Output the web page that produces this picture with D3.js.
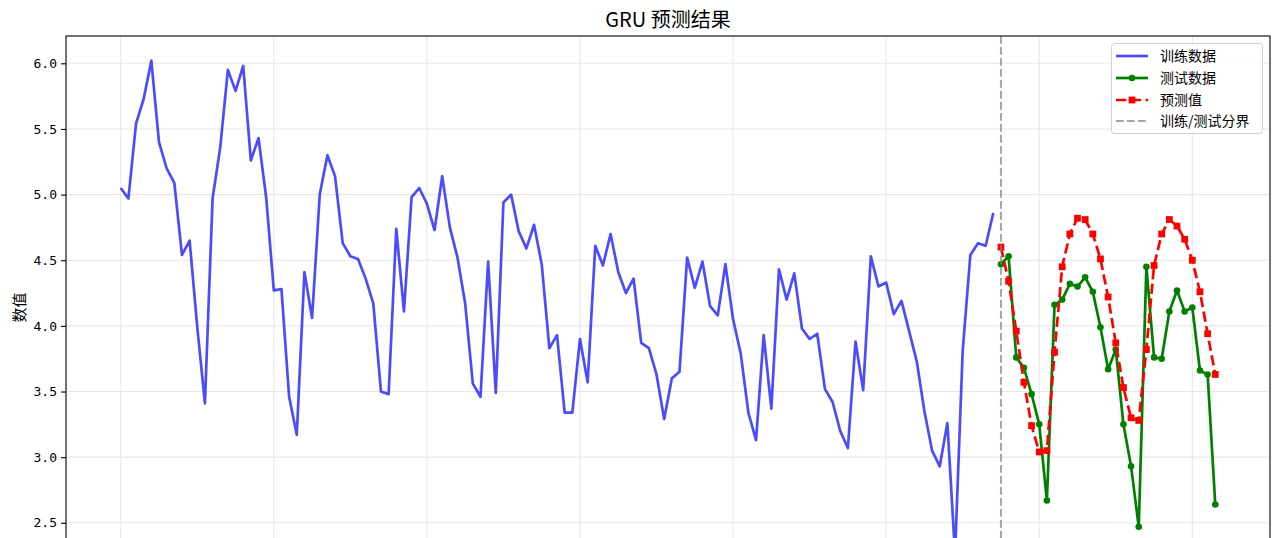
<!DOCTYPE html>
<html>
<head>
<meta charset="utf-8">
<style>
  body { margin: 0; background: #fff; }
  svg { display: block; overflow: hidden; }
  .tick text { font-family: "DejaVu Sans Mono", "Noto Sans CJK SC", sans-serif; }
</style>
</head>
<body>
<div class="chart"></div>
<script src="https://d3js.org/d3.v7.min.js"></script>
<script>
  // 训练数据（索引 0 ~ 114）
  const trainValues = [
    5.05, 4.97, 5.54, 5.73, 6.02, 5.40, 5.20, 5.09, 4.54, 4.65,
    3.99, 3.41, 4.97, 5.36, 5.95, 5.79, 5.98, 5.26, 5.43, 4.98,
    4.27, 4.28, 3.46, 3.17, 4.41, 4.06, 5.00, 5.30, 5.14, 4.63,
    4.53, 4.51, 4.36, 4.17, 3.50, 3.48, 4.74, 4.11, 4.98, 5.05,
    4.93, 4.73, 5.14, 4.75, 4.52, 4.17, 3.56, 3.46, 4.49, 3.49,
    4.94, 5.00, 4.72, 4.59, 4.77, 4.47, 3.83, 3.93, 3.34, 3.34,
    3.90, 3.57, 4.61, 4.46, 4.70, 4.41, 4.25, 4.36, 3.87, 3.83,
    3.63, 3.29, 3.60, 3.65, 4.52, 4.29, 4.49, 4.15, 4.08, 4.47,
    4.05, 3.79, 3.34, 3.13, 3.93, 3.37, 4.43, 4.20, 4.40, 3.98,
    3.90, 3.94, 3.52, 3.42, 3.20, 3.07, 3.88, 3.51, 4.53, 4.30,
    4.33, 4.09, 4.19, 3.96, 3.73, 3.35, 3.05, 2.93, 3.26, 2.26,
    3.81, 4.54, 4.63, 4.61, 4.86
  ];
  // 测试数据（索引 115 ~ 143）
  const testValues = [
    4.47, 4.53, 3.76, 3.68, 3.48, 3.25, 2.67, 4.16, 4.20, 4.32,
    4.30, 4.37, 4.26, 3.99, 3.67, 3.82, 3.25, 2.93, 2.47, 4.45,
    3.76, 3.75, 4.11, 4.27, 4.11, 4.14, 3.66, 3.63, 2.64
  ];
  // 预测值
  const predValues = [
    4.60, 4.34, 3.96, 3.57, 3.24, 3.04, 3.05, 3.80, 4.45, 4.70,
    4.82, 4.81, 4.70, 4.51, 4.22, 3.87, 3.53, 3.30, 3.28, 3.82,
    4.46, 4.70, 4.81, 4.76, 4.66, 4.50, 4.26, 3.94, 3.63
  ];
  const splitIndex = trainValues.length;
  const yTicks = [2.5, 3.0, 3.5, 4.0, 4.5, 5.0, 5.5, 6.0];
  const xTicks = [0, 20, 40, 60, 80, 100, 120, 140];
  const legendLabels = ['训练数据', '测试数据', '预测值', '训练/测试分界'];

  function drawChart() {
    const width = 1280, height = 538;
    // 图的下半部分在画面外（原图被裁切）
    const plotLeft = 66, plotRight = 1270, plotTop = 36, plotBottom = 579;
    const cjk = '"Noto Sans CJK SC", sans-serif';

    const svg = d3.select('.chart').append('svg')
      .attr('width', width)
      .attr('height', height);

    const trainData = trainValues.map((v, i) => ({ x: i, y: v }));
    const testData = testValues.map((v, i) => ({ x: splitIndex + i, y: v }));
    const predData = predValues.map((v, i) => ({ x: splitIndex + i, y: v }));
    const allY = trainValues.concat(testValues, predValues);

    // matplotlib 默认 5% 留白
    const xMax = splitIndex + testValues.length - 1;
    const xPad = xMax * 0.05;
    const xScale = d3.scaleLinear().domain([-xPad, xMax + xPad]).range([plotLeft, plotRight]);
    const yMin = d3.min(allY), yMax = d3.max(allY);
    const yPad = (yMax - yMin) * 0.05;
    const yScale = d3.scaleLinear().domain([yMin - yPad, yMax + yPad]).range([plotBottom, plotTop]);

    // 网格
    const grid = svg.append('g').attr('stroke', '#e7e7e7').attr('stroke-width', 1.1);
    grid.selectAll('.gx').data(xTicks).join('line')
      .attr('x1', d => xScale(d)).attr('x2', d => xScale(d))
      .attr('y1', plotTop).attr('y2', plotBottom);
    grid.selectAll('.gy').data(yTicks).join('line')
      .attr('x1', plotLeft).attr('x2', plotRight)
      .attr('y1', d => yScale(d)).attr('y2', d => yScale(d));

    const line = d3.line().x(d => xScale(d.x)).y(d => yScale(d.y));

    // 训练数据
    svg.append('path').datum(trainData)
      .attr('d', line)
      .attr('fill', 'none')
      .attr('stroke', 'blue').attr('stroke-opacity', 0.7)
      .attr('stroke-width', 2.7)
      .attr('stroke-linejoin', 'round');

    // 测试数据
    svg.append('path').datum(testData)
      .attr('d', line)
      .attr('fill', 'none')
      .attr('stroke', 'green')
      .attr('stroke-width', 2.7)
      .attr('stroke-linejoin', 'round');
    svg.selectAll('.testDot').data(testData).join('circle')
      .attr('cx', d => xScale(d.x)).attr('cy', d => yScale(d.y))
      .attr('r', 3.3).attr('fill', 'green');

    // 预测值
    svg.append('path').datum(predData)
      .attr('d', line)
      .attr('fill', 'none')
      .attr('stroke', 'red')
      .attr('stroke-width', 2.7)
      .attr('stroke-dasharray', '10.3,4.5');
    svg.selectAll('.predDot').data(predData).join('rect')
      .attr('x', d => xScale(d.x) - 3.4).attr('y', d => yScale(d.y) - 3.4)
      .attr('width', 6.8).attr('height', 6.8).attr('fill', 'red');

    // 分界线
    svg.append('line')
      .attr('x1', xScale(splitIndex)).attr('x2', xScale(splitIndex))
      .attr('y1', plotTop).attr('y2', plotBottom)
      .attr('stroke', 'gray').attr('stroke-opacity', 0.7)
      .attr('stroke-width', 2)
      .attr('stroke-dasharray', '7.7,3.3');

    // y 轴（x 轴在画面外，不画）
    const yAxis = d3.axisLeft(yScale).tickValues(yTicks)
      .tickFormat(d3.format('.1f')).tickSize(5).tickPadding(4);
    const yg = svg.append('g').attr('transform', `translate(${plotLeft},0)`).call(yAxis);
    yg.select('.domain').remove();
    yg.selectAll('.tick text').attr('font-size', 13).attr('fill', '#000');
    yg.selectAll('.tick line').attr('stroke-width', 1.1);

    svg.append('rect')
      .attr('x', plotLeft).attr('y', plotTop)
      .attr('width', plotRight - plotLeft).attr('height', plotBottom - plotTop)
      .attr('fill', 'none').attr('stroke', '#000').attr('stroke-width', 1.1);

    // 标题与轴标签
    svg.append('text')
      .attr('x', (plotLeft + plotRight) / 2).attr('y', 27)
      .attr('text-anchor', 'middle')
      .attr('font-family', cjk).attr('font-size', 20)
      .text('GRU 预测结果');

    svg.append('text')
      .attr('transform', `translate(25,${(plotTop + plotBottom) / 2}) rotate(-90)`)
      .attr('text-anchor', 'middle')
      .attr('font-family', cjk).attr('font-size', 15)
      .text('数值');

    // 图例
    const lg = svg.append('g');
    lg.append('rect')
      .attr('x', 1111.5).attr('y', 43.5).attr('width', 151).attr('height', 90)
      .attr('rx', 3).attr('fill', 'rgba(255,255,255,0.8)')
      .attr('stroke', '#d0d0d0').attr('stroke-width', 1);
    const rowY = [56, 78, 100, 121];
    const styles = [
      { stroke: 'blue', op: 0.7, dash: null, w: 2.7, marker: null },
      { stroke: 'green', op: 1, dash: null, w: 2.7, marker: 'circle' },
      { stroke: 'red', op: 1, dash: '10.3,4.5', w: 2.7, marker: 'square' },
      { stroke: 'gray', op: 0.7, dash: '7.7,3.3', w: 2, marker: null }
    ];
    legendLabels.forEach((label, i) => {
      const s = styles[i];
      const y = rowY[i];
      lg.append('line')
        .attr('x1', 1116).attr('x2', 1148).attr('y1', y).attr('y2', y)
        .attr('stroke', s.stroke).attr('stroke-opacity', s.op)
        .attr('stroke-width', s.w)
        .attr('stroke-dasharray', s.dash);
      if (s.marker === 'circle') {
        lg.append('circle').attr('cx', 1132).attr('cy', y).attr('r', 3.3).attr('fill', 'green');
      } else if (s.marker === 'square') {
        lg.append('rect').attr('x', 1128.6).attr('y', y - 3.4)
          .attr('width', 6.8).attr('height', 6.8).attr('fill', 'red');
      }
      lg.append('text')
        .attr('x', 1160).attr('y', y + 5)
        .attr('font-family', cjk).attr('font-size', 14)
        .text(label);
    });
  }
  drawChart();
</script>
</body>
</html>
